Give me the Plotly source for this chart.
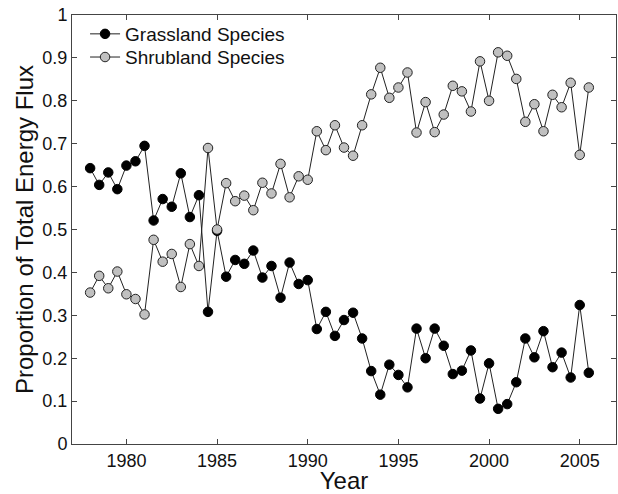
import plotly.graph_objects as go

years = [1978 + 0.5 * i for i in range(56)]

grassland = [0.643, 0.604, 0.633, 0.594, 0.649, 0.659, 0.695, 0.521, 0.571, 0.553,
             0.631, 0.529, 0.580, 0.308, 0.497, 0.390, 0.429, 0.420, 0.451, 0.388,
             0.415, 0.341, 0.423, 0.373, 0.382, 0.268, 0.308, 0.252, 0.289, 0.306,
             0.246, 0.170, 0.115, 0.185, 0.161, 0.132, 0.269, 0.200, 0.269, 0.229,
             0.163, 0.171, 0.218, 0.106, 0.188, 0.082, 0.093, 0.144, 0.246, 0.202,
             0.263, 0.179, 0.213, 0.155, 0.324, 0.166]

shrubland = [0.353, 0.392, 0.363, 0.402, 0.349, 0.338, 0.302, 0.476, 0.425, 0.443,
             0.366, 0.466, 0.415, 0.690, 0.500, 0.608, 0.566, 0.579, 0.545, 0.609,
             0.584, 0.653, 0.575, 0.624, 0.616, 0.729, 0.685, 0.743, 0.691, 0.672,
             0.743, 0.815, 0.877, 0.807, 0.831, 0.866, 0.726, 0.797, 0.727, 0.768,
             0.835, 0.822, 0.775, 0.892, 0.800, 0.913, 0.905, 0.851, 0.751, 0.792,
             0.729, 0.814, 0.785, 0.842, 0.674, 0.831]

x_ticks = [1980, 1985, 1990, 1995, 2000, 2005]
y_ticks = [0, 0.1, 0.2, 0.3, 0.4, 0.5, 0.6, 0.7, 0.8, 0.9, 1]
y_tick_labels = ["0", "0.1", "0.2", "0.3", "0.4", "0.5", "0.6", "0.7", "0.8", "0.9", "1"]

FONT = "Arial, Liberation Sans, Helvetica, sans-serif"

fig = go.Figure()
fig.add_trace(go.Scatter(
    x=years, y=grassland, name="Grassland Species", mode="lines+markers",
    line=dict(color="#222222", width=1),
    marker=dict(size=9.5, color="#000000", line=dict(color="#000000", width=1)),
    legend="legend",
))
fig.add_trace(go.Scatter(
    x=years, y=shrubland, name="Shrubland Species", mode="lines+markers",
    line=dict(color="#222222", width=1),
    marker=dict(size=9.5, color="#c0c0c0", line=dict(color="#222222", width=1)),
    legend="legend2",
))

axis_common = dict(
    showline=True, linecolor="#444444", linewidth=1, mirror="ticks",
    ticks="inside", ticklen=5, tickcolor="#444444", tickwidth=1,
    showgrid=False, zeroline=False,
    tickfont=dict(family=FONT, size=18, color="#111111"),
)

legend_common = dict(xanchor="left", yanchor="top", bgcolor="rgba(0,0,0,0)", borderwidth=0,
                     font=dict(family=FONT, size=19, color="#111111"))

fig.update_layout(
    width=618, height=494,
    margin=dict(l=72, r=2, t=15, b=50),
    paper_bgcolor="white", plot_bgcolor="white",
    font=dict(family=FONT, color="#111111"),
    showlegend=True,
    legend=dict(x=0.024, y=1.0, **legend_common),
    legend2=dict(x=0.024, y=0.946, **legend_common),
    xaxis=dict(range=[1977, 2007], tickvals=x_ticks,
               title=dict(text="Year", font=dict(family=FONT, size=24, color="#111111"), standoff=4),
               **axis_common),
    yaxis=dict(range=[0, 1], tickvals=y_ticks, ticktext=y_tick_labels,
               title=dict(text="Proportion of Total Energy Flux", font=dict(family=FONT, size=24, color="#111111"), standoff=1),
               **axis_common),
)

fig.write_html("out.html", config={"displayModeBar": False},
               post_script="document.body.style.margin='0';document.body.style.padding='0';")
